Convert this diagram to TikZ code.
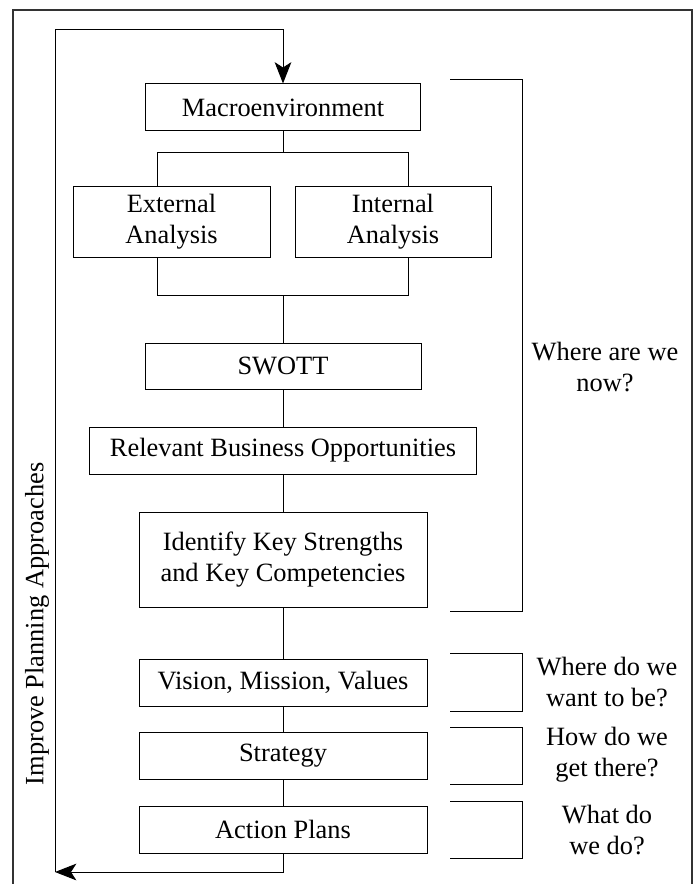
\documentclass[tikz,border=0pt]{standalone}
\usepackage{fontspec}
\setmainfont{Liberation Serif}
\usetikzlibrary{arrows.meta,calc,positioning}

\newcommand{\qbracket}[2]{\draw (450,#1) -| (522,#2) -- (450,#2);}

\begin{document}
\begin{tikzpicture}[x=0.75pt,y=-0.75pt,line width=0.75pt,
	font=\fontsize{19.8pt}{23.5pt}\selectfont,
	stepbox/.style={draw,rectangle,inner sep=0pt,align=center,
		minimum width=216pt,minimum height=35.25pt},
	flow/.style={-{Stealth[length=16pt,width=12.5pt,inset=4pt]}},
	question/.style={align=center}]
	\useasboundingbox (0,0) rectangle (697,884);
	\draw[line width=1pt,black!80] (13,890) |- (692,10) -- (692,890);
	% boxes
	\node [stepbox, minimum width=206.25pt] (macro) at (283,107.5) {Macroenvironment};
	\node [stepbox, minimum width=147.75pt, minimum height=52.5pt] (ext) at (171.5,222) {External\\Analysis};
	\node [stepbox, minimum width=147pt, minimum height=52.5pt] (int) at (393,222) {Internal\\Analysis};
	\node [stepbox, minimum width=207pt, minimum height=34.5pt] (swott) at (283,366) {SWOTT};
	\node [stepbox, minimum width=290.25pt] (rel) at (283,450.5) {Relevant Business Opportunities};
	\node [stepbox, minimum height=71.25pt] (ident) at (283,559.5) {Identify Key Strengths\\and Key Competencies};
	\node [stepbox] (vision) at (283,682.5) {Vision, Mission, Values};
	\node [stepbox] (strat) at (283,755.5) {Strategy};
	\node [stepbox] (action) at (283,829.5) {Action Plans};
	\coordinate (splittop) at (283,153);
	\coordinate (splitbot) at (283,295);
	\coordinate (loopbl) at (55,872);
	\coordinate (looptr) at (283,30);
	% connectors
	\draw (macro.south) -- (splittop);
	\draw ($(ext.north)+(-14.5,0)$) |- ($(int.north)+(15,-34)$) -- ($(int.north)+(15,0)$);
	\draw ($(ext.south)+(-14.5,0)$) |- ($(int.south)+(15,38)$) -- ($(int.south)+(15,0)$);
	\draw (splitbot) -- (swott.north);
	\draw (swott) -- (rel);
	\draw (rel) -- (ident);
	\draw (ident) -- (vision);
	\draw (vision) -- (strat);
	\draw (strat) -- (action);
	\draw [flow] (action.south) |- (loopbl);
	\draw [flow] (loopbl) |- (looptr) -- (macro.north);
	\node [rotate=90] (improve) at (37,624) {Improve Planning Approaches};
	% brackets
	\qbracket{80}{611}
	\qbracket{653}{711}
	\qbracket{727}{784}
	\qbracket{801}{858}
	\node [question] (now) at (605,367) {Where are we\\now?};
	\node [question] (want) at (607,682) {Where do we\\want to be?};
	\node [question] (how) at (607,755) {How do we\\get there?};
	\node [question] (what) at (607,830) {What do\\we do?};
\end{tikzpicture}
\end{document}
